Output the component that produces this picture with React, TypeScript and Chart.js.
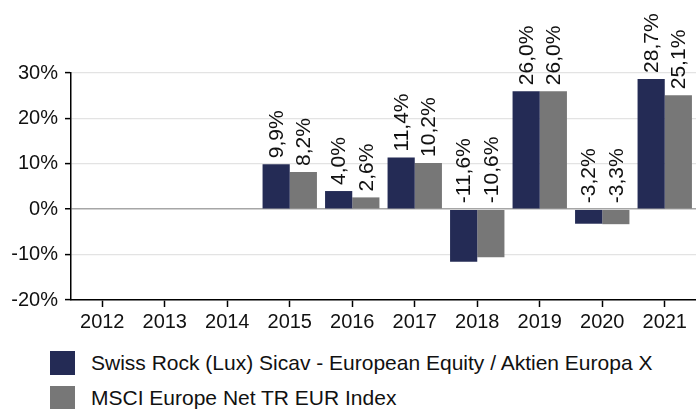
import React, { useEffect, useRef } from "react";
import { Chart, registerables } from "chart.js";

Chart.register(...registerables);

const categories = ["2012", "2013", "2014", "2015", "2016", "2017", "2018", "2019", "2020", "2021"];
const fundValues: (number | null)[] = [null, null, null, 9.9, 4.0, 11.4, -11.6, 26.0, -3.2, 28.7];
const indexValues: (number | null)[] = [null, null, null, 8.2, 2.6, 10.2, -10.6, 26.0, -3.3, 25.1];
const seriesNames = [
  "Swiss Rock (Lux) Sicav - European Equity / Aktien Europa X",
  "MSCI Europe Net TR EUR Index",
];
const seriesColors = ["#242b55", "#777777"];
const yTicks = [-20, -10, 0, 10, 20, 30];

const FONT = "'Liberation Sans', Arial, sans-serif";

const labelPlugin = {
  id: "barValueLabels",
  afterDatasetsDraw(chart: any) {
    const ctx = chart.ctx;
    const yScale = chart.scales.y;
    const zero = yScale.getPixelForValue(0);
    ctx.save();
    ctx.font = `21px ${FONT}`;
    ctx.fillStyle = "#111111";
    ctx.textAlign = "left";
    ctx.textBaseline = "middle";
    chart.data.datasets.forEach((ds: any, di: number) => {
      const meta = chart.getDatasetMeta(di);
      meta.data.forEach((el: any, i: number) => {
        const v = ds.data[i];
        if (v === null || v === undefined) return;
        const y = v >= 0 ? el.y : zero;
        ctx.save();
        ctx.translate(el.x, y - 6);
        ctx.rotate(-Math.PI / 2);
        ctx.fillText(v.toFixed(1).replace(".", ",") + "%", 0, 1);
        ctx.restore();
      });
    });
    ctx.restore();
  },
};

export default function App() {
  const ref = useRef<HTMLCanvasElement | null>(null);

  useEffect(() => {
    document.body.style.margin = "0";
    const canvas = ref.current;
    if (!canvas) return;
    const chart = new Chart(canvas, {
      type: "bar",
      data: {
        labels: categories,
        datasets: [
          {
            label: seriesNames[0],
            data: fundValues,
            backgroundColor: seriesColors[0],
            categoryPercentage: 0.87,
            barPercentage: 1,
          },
          {
            label: seriesNames[1],
            data: indexValues,
            backgroundColor: seriesColors[1],
            categoryPercentage: 0.87,
            barPercentage: 1,
          },
        ],
      },
      options: {
        responsive: false,
        animation: false,
        layout: { padding: { top: 73, right: 0, left: 0, bottom: 0 } },
        plugins: {
          legend: { display: false },
          tooltip: { enabled: false },
        },
        scales: {
          x: {
            grid: {
              offset: false,
              drawOnChartArea: false,
              tickLength: 7,
              tickColor: "#000000",
              tickWidth: 1.5,
            },
            border: { color: "#000000", width: 1.5 },
            ticks: {
              color: "#111111",
              font: { family: FONT, size: 20 },
              padding: 3,
              maxRotation: 0,
            },
            afterFit: (s: any) => {
              s.height = 40;
            },
          },
          y: {
            min: yTicks[0],
            max: yTicks[yTicks.length - 1],
            afterBuildTicks: (s: any) => {
              s.ticks = yTicks.map((v) => ({ value: v }));
            },
            grid: {
              color: (c: any) => (c.tick && c.tick.value === 0 ? "#a6a6a6" : "#e3e3e3"),
              lineWidth: (c: any) => (c.tick && c.tick.value === 0 ? 1.5 : 1.2),
              tickLength: 6,
              tickColor: "#000000",
              tickWidth: 1.5,
            },
            border: { color: "#000000", width: 1.5 },
            ticks: {
              color: "#111111",
              font: { family: FONT, size: 20 },
              padding: 7,
              callback: (v: any) => `${v}%`,
            },
            afterFit: (s: any) => {
              s.width = 71;
            },
          },
        },
      },
      plugins: [labelPlugin],
    });
    return () => chart.destroy();
  }, []);

  const legendRow = (i: number, top: number) => (
    <div key={i} style={{ position: "absolute", left: 50, top, height: 24, display: "flex", alignItems: "center" }}>
      <div style={{ width: 25, height: 24, background: seriesColors[i], flex: "none" }} />
      <div
        style={{
          marginLeft: 16,
          fontFamily: FONT,
          fontSize: 21,
          lineHeight: "24px",
          color: "#111111",
          whiteSpace: "nowrap",
        }}
      >
        {seriesNames[i]}
      </div>
    </div>
  );

  return (
    <div style={{ position: "relative", width: 696, height: 409, overflow: "hidden", background: "#fff" }}>
      <canvas ref={ref} width={696} height={340} style={{ display: "block" }} />
      {legendRow(0, 351)}
      {legendRow(1, 386)}
    </div>
  );
}
